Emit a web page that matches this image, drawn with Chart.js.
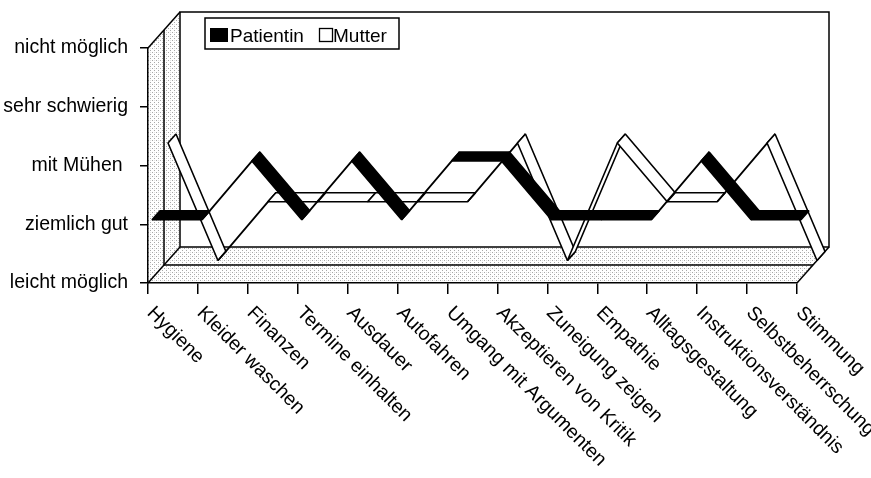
<!DOCTYPE html>
<html>
<head>
<meta charset="utf-8">
<script src="https://cdn.jsdelivr.net/npm/chart.js@4.4.1/dist/chart.umd.min.js"></script>
<style>
  html, body { margin: 0; padding: 0; background: #fff; }
  canvas { display: block; }
</style>
</head>
<body>
<canvas id="ratingChart" width="871" height="478"></canvas>
<script>
// data
const categories = [
  'Hygiene', 'Kleider waschen', 'Finanzen', 'Termine einhalten', 'Ausdauer',
  'Autofahren', 'Umgang mit Argumenten', 'Akzeptieren von Kritik', 'Zuneigung zeigen',
  'Empathie', 'Alltagsgestaltung', 'Instruktionsverständnis', 'Selbstbeherrschung', 'Stimmung'
];
const levels = ['leicht möglich', 'ziemlich gut', 'mit Mühen ', 'sehr schwierig', 'nicht möglich'];
const patientin = [1, 1, 2, 1, 2, 1, 2, 2, 1, 1, 1, 2, 1, 1];
const mutter    = [2, 0, 1, 1, 1, 1, 1, 2, 0, 2, 1, 1, 2, 0];

const FONT = '"Liberation Sans", Arial, sans-serif';
const ROW_DX = 16;   // depth shift per series row
const ROW_DY = 18;
const ROWS = 2;

function stipple(ctx) {
  const c = document.createElement('canvas');
  c.width = 4; c.height = 4;
  const p = c.getContext('2d');
  p.fillStyle = '#ffffff';
  p.fillRect(0, 0, 4, 4);
  p.fillStyle = '#a8a8a8';
  p.fillRect(0, 0, 1, 1);
  p.fillRect(2, 2, 1, 1);
  p.fillStyle = '#e2e2e2';
  p.fillRect(2, 0, 1, 1);
  return ctx.createPattern(c, 'repeat');
}

function poly(ctx, pts) {
  ctx.beginPath();
  ctx.moveTo(pts[0][0], pts[0][1]);
  for (let i = 1; i < pts.length; i++) ctx.lineTo(pts[i][0], pts[i][1]);
  ctx.closePath();
}

function line(ctx, x1, y1, x2, y2) {
  ctx.beginPath();
  ctx.moveTo(x1, y1);
  ctx.lineTo(x2, y2);
  ctx.stroke();
}

// walls and floor of the 3d box
const box3d = {
  id: 'box3d',
  beforeDraw(chart) {
    const { ctx, chartArea: a } = chart;
    const DX = ROW_DX * ROWS, DY = ROW_DY * ROWS;
    ctx.save();
    ctx.fillStyle = stipple(ctx);
    poly(ctx, [[a.left, a.top], [a.left + DX, a.top - DY], [a.left + DX, a.bottom - DY], [a.left, a.bottom]]);
    ctx.fill();
    poly(ctx, [[a.left, a.bottom], [a.right, a.bottom], [a.right + DX, a.bottom - DY], [a.left + DX, a.bottom - DY]]);
    ctx.fill();

    ctx.strokeStyle = '#000';
    ctx.lineWidth = 1.5;
    ctx.strokeRect(a.left + DX, a.top - DY, a.right - a.left, a.bottom - a.top);
    for (let r = 1; r < ROWS; r++) {
      const x = a.left + r * ROW_DX, yb = a.bottom - r * ROW_DY;
      ctx.beginPath();
      ctx.moveTo(x, a.top - r * ROW_DY);
      ctx.lineTo(x, yb);
      ctx.lineTo(a.right + r * ROW_DX, yb);
      ctx.stroke();
    }
    line(ctx, a.left, a.top, a.left + DX, a.top - DY);
    line(ctx, a.left, a.bottom, a.left + DX, a.bottom - DY);
    line(ctx, a.right, a.bottom, a.right + DX, a.bottom - DY);
    ctx.restore();
  }
};

// ribbons, back row first
const ribbons = {
  id: 'ribbons',
  afterDatasetsDraw(chart) {
    const { ctx } = chart;
    ctx.save();
    ctx.lineWidth = 1.6;
    ctx.lineJoin = 'bevel';
    ctx.strokeStyle = '#000';
    for (let d = chart.data.datasets.length - 1; d >= 0; d--) {
      const ds = chart.data.datasets[d];
      const pts = chart.getDatasetMeta(d).data;
      const f = d + 0.25, b = d + 0.75;
      for (let i = 0; i < pts.length - 1; i++) {
        const p0 = pts[i], p1 = pts[i + 1];
        poly(ctx, [
          [p0.x + f * ROW_DX, p0.y - f * ROW_DY],
          [p1.x + f * ROW_DX, p1.y - f * ROW_DY],
          [p1.x + b * ROW_DX, p1.y - b * ROW_DY],
          [p0.x + b * ROW_DX, p0.y - b * ROW_DY]
        ]);
        ctx.fillStyle = ds.backgroundColor;
        ctx.fill();
        ctx.stroke();
      }
    }
    ctx.restore();
  }
};

// slanted category labels and legend
const labelsAndLegend = {
  id: 'labelsAndLegend',
  afterDraw(chart) {
    const { ctx, chartArea: a } = chart;
    const xs = chart.scales.x;
    ctx.save();
    ctx.font = `19.5px ${FONT}`;
    ctx.fillStyle = '#000';
    ctx.textAlign = 'left';
    ctx.textBaseline = 'top';
    categories.forEach((c, i) => {
      const x = xs.getPixelForValue(i);
      ctx.save();
      ctx.translate(x + 9, a.bottom + 20);
      ctx.rotate(Math.PI / 4);
      ctx.fillText(c, 0, 0);
      ctx.restore();
    });

    // legend
    ctx.font = `19px ${FONT}`;
    ctx.lineWidth = 1.5;
    ctx.strokeStyle = '#000';
    ctx.fillStyle = '#fff';
    ctx.fillRect(205, 18, 194, 31);
    ctx.strokeRect(205, 18, 194, 31);
    ctx.textBaseline = 'alphabetic';
    const ds = chart.data.datasets;
    ctx.fillStyle = '#000';
    ctx.fillRect(210, 28, 18, 14);
    ctx.fillText(ds[0].label, 230, 42);
    ctx.lineWidth = 1.3;
    ctx.strokeRect(319.5, 28.5, 13, 13);
    ctx.fillText(ds[1].label, 333, 42);
    ctx.restore();
  }
};

new Chart(document.getElementById('ratingChart'), {
  type: 'line',
  data: {
    labels: categories,
    datasets: [
      { label: 'Patientin', data: patientin, backgroundColor: '#000', showLine: false, pointRadius: 0 },
      { label: 'Mutter',    data: mutter,    backgroundColor: '#fff', showLine: false, pointRadius: 0 }
    ]
  },
  options: {
    responsive: false,
    animation: false,
    events: [],
    layout: { padding: { top: 48, right: 74, left: 0, bottom: 0 } },
    plugins: { legend: { display: false }, tooltip: { enabled: false } },
    scales: {
      x: {
        type: 'category',
        offset: false,
        ticks: { display: false },
        grid: { display: true, drawOnChartArea: false, drawTicks: true, tickLength: 11, color: '#000', lineWidth: 1.5 },
        border: { display: true, color: '#000', width: 1.5 },
        afterFit(scale) { scale.height = 478 - 283; }
      },
      y: {
        min: 0,
        max: 4,
        ticks: {
          stepSize: 1,
          padding: 12,
          color: '#000',
          font: { family: FONT, size: 19.5 },
          callback: v => levels[v]
        },
        grid: { display: true, drawOnChartArea: false, drawTicks: true, tickLength: 8, color: '#000', lineWidth: 1.5 },
        border: { display: true, color: '#000', width: 1.5 },
        afterFit(scale) { scale.width = 148; }
      }
    }
  },
  plugins: [box3d, ribbons, labelsAndLegend]
});
</script>
</body>
</html>
